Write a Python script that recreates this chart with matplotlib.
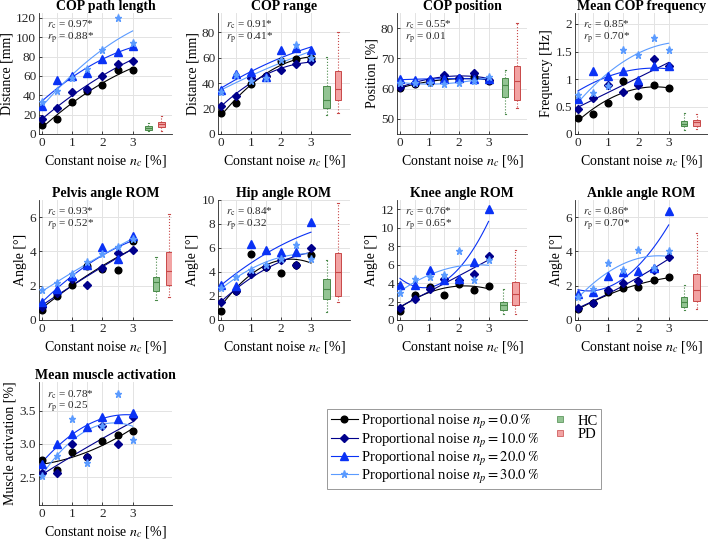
import numpy as np
import matplotlib.pyplot as plt
from matplotlib.lines import Line2D

plt.rcParams['font.family'] = ['Liberation Serif', 'DejaVu Serif']
plt.rcParams['mathtext.fontset'] = 'stix'

# x-Achse: konstantes Rauschen n_c [%]
noise_c = [0, 0.5, 1, 1.5, 2, 2.5, 3]
noise_p = ['0.0', '10.0', '20.0', '30.0']

# je Panel: Reihen fuer n_p = 0, 10, 20, 30 %
cop_path = [[9, 15.7, 32.7, 44, 50.4, 66, 65.7],
            [15.7, 26.8, 43.8, 46, 60, 72.7, 75.5],
            [29, 55.7, 60, 62.6, 77, 85, 90.4],
            [32.7, 44, 58, 66.8, 87, 120, 93.6]]
cop_range = [[16.3, 24.7, 39, 45.9, 57.2, 58.5, 59.5],
             [21.8, 29.6, 44, 45.4, 50.4, 54.6, 57],
             [34.6, 47.2, 49, 45, 66, 67.7, 65.6],
             [33.3, 46.4, 42, 43.8, 58.2, 70, 59.5]]
cop_pos = [[60.3, 61.4, 62.3, 62.8, 63.1, 64, 62.6],
           [60.7, 61.8, 62.8, 64.4, 63.4, 65.3, 62.8],
           [63.1, 62.9, 63.1, 63.3, 63.6, 63.1, 63.1],
           [61.8, 62, 61.7, 61.4, 62, 62.6, 63.9]]
cop_freq = [[0.30, 0.36, 0.56, 0.96, 0.70, 0.89, 0.83],
            [0.45, 0.65, 0.89, 0.77, 0.89, 1.36, 1.24],
            [0.64, 1.15, 1.06, 1.15, 0.98, 1.24, 1.23],
            [0.71, 0.74, 0.88, 1.53, 1.44, 1.74, 1.53]]
pelvis_rom = [[0.58, 1.39, 2.03, 3.13, 3.0, 2.94, 4.59],
              [0.74, 1.55, 2.38, 2.07, 3.04, 3.91, 4.06],
              [1.06, 1.78, 2.57, 3.19, 4.26, 3.58, 4.88],
              [1.74, 2.13, 2.71, 3.39, 3.83, 4.26, 4.74]]
hip_rom = [[0.74, 2.44, 5.48, 4.38, 3.95, 4.58, 5.4],
           [1.5, 2.38, 3.84, 4.38, 4.99, 4.58, 6.03],
           [2.93, 2.85, 6.3, 5.86, 5.67, 5.67, 8.14],
           [2.66, 3.56, 4.16, 4.58, 5.12, 6.22, 5.12]]
knee_rom = [[0.97, 2.69, 3.59, 2.69, 3.95, 3.23, 3.66],
            [1.26, 2.3, 3.31, 4.46, 4.38, 5.03, 6.97],
            [3.74, 3.74, 5.46, 4.31, 4.46, 6.25, 12.0],
            [2.95, 4.46, 4.67, 4.92, 7.44, 4.38, 6.47]]
ankle_rom = [[0.64, 0.97, 1.65, 1.84, 1.9, 2.36, 2.48],
             [0.68, 1.0, 1.74, 2.13, 2.28, 2.9, 3.68],
             [1.49, 1.65, 2.57, 2.81, 2.86, 3.06, 6.33],
             [1.35, 1.78, 3.35, 2.94, 4.06, 3.06, 4.0]]
muscle_act = [[2.76, 2.61, 2.87, 2.80, 3.05, 3.13, 3.19],
              [2.56, 2.56, 3.0, 2.80, 3.27, 3.0, 3.41],
              [2.70, 2.99, 3.15, 3.26, 3.41, 3.38, 3.46],
              [2.52, 2.81, 3.37, 2.71, 3.27, 3.75, 3.06]]

# Boxplots HC / PD: (whislo, q1, med, q3, whishi)
hc_stats = [(3.5, 4.2, 6.5, 8.3, 11.8), (15.2, 20.2, 26.5, 37.5, 60.3),
            (51.7, 57.2, 61.1, 63.6, 66.1), (0.08, 0.14, 0.19, 0.23, 0.39),
            (1.16, 1.68, 2.23, 2.52, 3.68), (0.68, 1.78, 2.58, 3.42, 4.99),
            (0.68, 1.08, 1.58, 1.94, 3.38), (0.58, 0.77, 1.06, 1.32, 2.03), None]
pd_stats = [(3.5, 7.7, 10.5, 12.9, 19), (16.5, 26.5, 35.4, 49.3, 80),
            (53.7, 56.4, 62.4, 67.6, 81.8), (0.09, 0.15, 0.21, 0.25, 0.36),
            (1.35, 2.07, 2.86, 3.97, 6.19), (1.5, 1.97, 3.97, 5.62, 9.78),
            (0.61, 1.62, 2.77, 4.13, 7.55), (0.62, 1.1, 1.74, 2.67, 5.07), None]

titles = ['COP path length', 'COP range', 'COP position', 'Mean COP frequency',
          'Pelvis angle ROM', 'Hip angle ROM', 'Knee angle ROM', 'Ankle angle ROM',
          'Mean muscle activation']
ylabels = ['Distance [mm]', 'Distance [mm]', 'Position [%]', 'Frequency [Hz]',
           'Angle [°]', 'Angle [°]', 'Angle [°]', 'Angle [°]', 'Muscle activation [%]']
r_c = ['0.97*', '0.91*', '0.55*', '0.85*', '0.93*', '0.84*', '0.76*', '0.86*', '0.78*']
r_p = ['0.88*', '0.41*', '0.01', '0.70*', '0.52*', '0.32', '0.65*', '0.70*', '0.25']
data = [cop_path, cop_range, cop_pos, cop_freq, pelvis_rom, hip_rom, knee_rom,
        ankle_rom, muscle_act]

ylims = [(0, 125), (0, 95), (45, 85), (0, 2.2), (0, 7), (0, 10), (0, 13), (0, 7),
         (2.08, 3.93)]
yticks = [np.arange(0, 121, 20), np.arange(0, 81, 20), np.arange(50, 81, 10),
          np.arange(0, 2.01, 0.5), np.arange(0, 7, 2), np.arange(0, 11, 2),
          np.arange(0, 13, 2), np.arange(0, 7, 2), [2.5, 3, 3.5]]
box_pos = [(3.52, 3.95), (3.52, 3.9), (3.56, 3.96), (3.51, 3.92), (3.77, 4.2),
           (3.52, 3.9), (3.5, 3.91), (3.51, 3.93), None]

colors = ['black', '#00008c', '#0a32f5', '#5b9bff']
markers = ['o', 'D', '^', '*']
msizes = [4.8, 4.2, 5.2, 5.2]

cols = [(39, 172), (218, 350), (397, 527), (575, 708)]
rows = [(13, 134), (200, 320), (382, 505)]
W, H = 708, 540

fig = plt.figure(figsize=(7.08, 5.40), dpi=100)

xfit = np.linspace(0, 3, 60)
for i in range(9):
    l, r = cols[i % 4]
    t, b = rows[i // 4]
    ax = fig.add_axes([l / W, 1 - b / H, (r - l) / W, (b - t) / H])

    for k in range(4):
        y = np.array(data[i][k])
        p = np.polyfit(noise_c, y, 2)
        ax.plot(xfit, np.polyval(p, xfit), color=colors[k], lw=0.8, zorder=3)
        ax.plot(noise_c, y, linestyle='none', marker=markers[k], ms=msizes[k],
                color=colors[k], zorder=4)

    if hc_stats[i] is not None:
        for st, pos, fc, ec in [(hc_stats[i], box_pos[i][0], '#93c493', '#4a8a4a'),
                                (pd_stats[i], box_pos[i][1], '#f2a3a3', '#c84848')]:
            lo, q1, med, q3, hi = st
            ax.bxp([{'whislo': lo, 'q1': q1, 'med': med, 'q3': q3, 'whishi': hi,
                     'fliers': []}], positions=[pos], widths=0.22, patch_artist=True,
                   showfliers=False, manage_ticks=False,
                   boxprops=dict(facecolor=fc, edgecolor=ec, lw=0.7),
                   medianprops=dict(color=ec, lw=0.8),
                   whiskerprops=dict(color=ec, lw=0.8, linestyle=':'),
                   capprops=dict(color=ec, lw=0.8), capwidths=0.04)

    ax.set_xlim(-0.1, 4.3)
    ax.set_ylim(*ylims[i])
    ax.set_xticks([0, 1, 2, 3])
    ax.set_xticks(np.arange(0, 3.01, 0.5), minor=True)
    ax.set_yticks(yticks[i])
    if i == 3:
        ax.set_yticklabels(['0', '0.5', '1', '1.5', '2'])
    ax.grid(True, which='both', axis='x', color='#e3e3e3', lw=0.7, zorder=0)
    ax.grid(True, which='major', axis='y', color='#e3e3e3', lw=0.7, zorder=0)
    ax.set_axisbelow(True)
    ax.tick_params(which='both', direction='in', length=2.5, width=0.6,
                   labelsize=9.5, colors='#262626', pad=2)
    ax.tick_params(which='minor', length=0)
    for s in ['top', 'right']:
        ax.spines[s].set_visible(False)
    for s in ['left', 'bottom']:
        ax.spines[s].set_linewidth(0.6)
        ax.spines[s].set_color('#262626')

    ax.set_title(titles[i], fontweight='bold', fontsize=10, pad=2)
    ax.set_ylabel(ylabels[i], fontsize=10, labelpad=2)
    ax.set_xlabel(r'Constant noise $n_c$ [%]', fontsize=10, labelpad=3)
    ax.text(0.06, 0.9, r'$r_\mathrm{c}$ = ' + r_c[i], transform=ax.transAxes,
            fontsize=8, va='center', color='#262626')
    ax.text(0.06, 0.79, r'$r_\mathrm{p}$ = ' + r_p[i], transform=ax.transAxes,
            fontsize=8, va='center', color='#262626')

handles = [Line2D([], [], color=colors[k], marker=markers[k], ms=msizes[k], lw=0.8)
           for k in range(4)]
labels = [r'Proportional noise $n_p = %s\,\%%$' % v for v in noise_p]
handles += [Line2D([], [], linestyle='none', marker='s', ms=4, mfc='#93c493', mec='#4a8a4a', mew=0.5),
            Line2D([], [], linestyle='none', marker='s', ms=4, mfc='#f2a3a3', mec='#c84848', mew=0.5),
            Line2D([], [], linestyle='none'), Line2D([], [], linestyle='none')]
labels += ['HC', 'PD', '', '']
leg = fig.legend(handles, labels, loc='upper left', bbox_to_anchor=(327 / W, 1 - 409 / H),
                 ncol=2, fontsize=10.5, frameon=True, fancybox=False, edgecolor='#808080',
                 borderaxespad=0, handlelength=1.85, handletextpad=0.25, labelspacing=0.0,
                 columnspacing=0.5, borderpad=0.25)
leg.get_frame().set_linewidth(0.7)

fig.savefig('out.png', dpi=100)
